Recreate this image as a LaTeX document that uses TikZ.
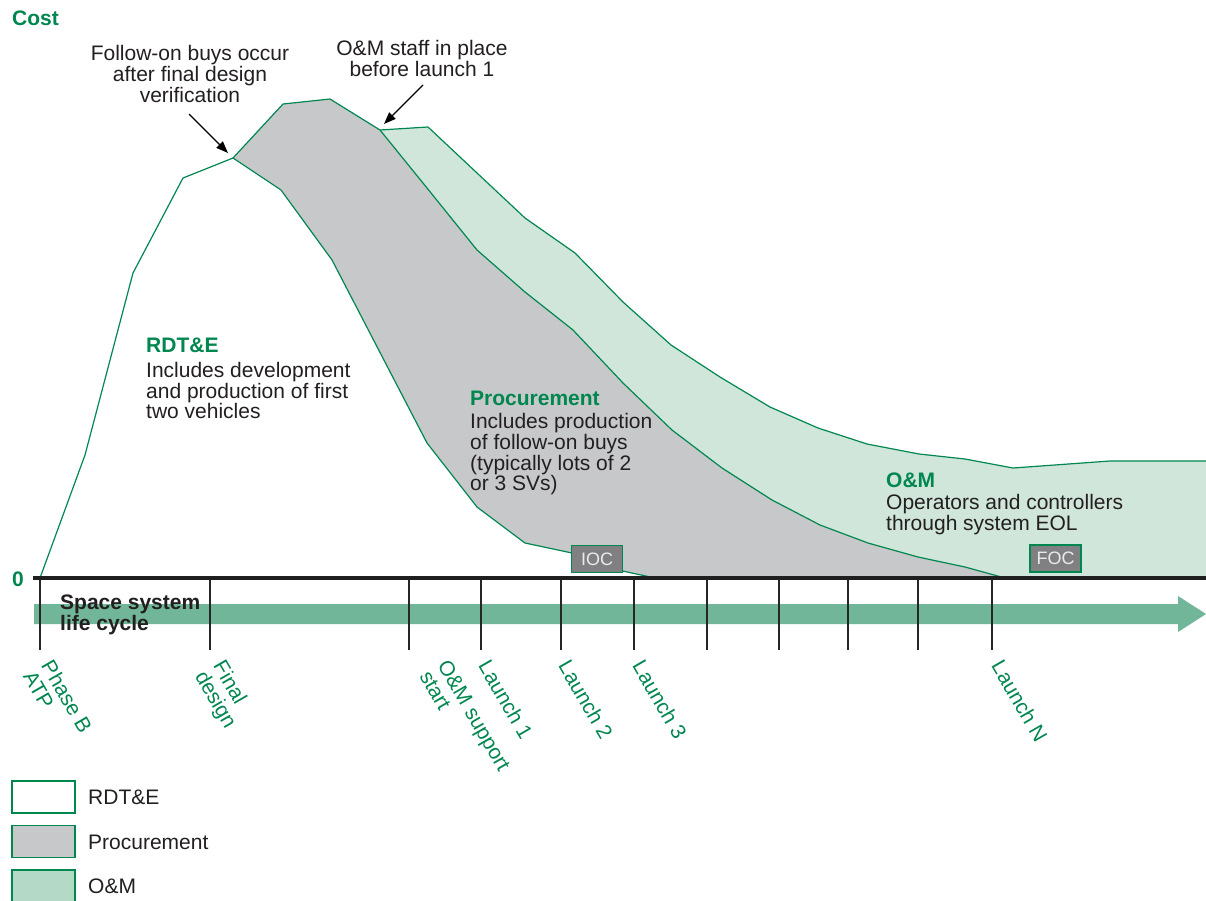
\documentclass[tikz,border=0pt]{standalone}
\usepackage{fontspec}
\setmainfont{Liberation Sans}
\usetikzlibrary{arrows.meta}
\definecolor{ggreen}{RGB}{0,135,80}
\definecolor{pgray}{RGB}{199,200,202}
\definecolor{omfill}{RGB}{208,230,218}
\definecolor{omleg}{RGB}{180,217,199}
\definecolor{bandc}{RGB}{114,182,153}
\definecolor{txt}{RGB}{35,31,32}
\definecolor{boxgray}{RGB}{128,128,131}
\begin{document}
\begin{tikzpicture}[x=1pt,y=-1pt,
  curve/.style={draw=ggreen,line width=1.2pt,line join=round},
  body/.style={font=\fontsize{21}{20.6}\selectfont,text=txt,inner sep=0pt,align=left,anchor=north west},
  ttl/.style={font=\bfseries\fontsize{21}{21}\selectfont,text=ggreen,inner sep=0pt,anchor=base west},
  ticklab/.style={font=\fontsize{21}{21}\selectfont,text=ggreen,inner sep=0pt,align=left,rotate=-60,anchor=north west},
  tickline/.style={line width=1.2pt,draw=black!85},
  milestone/.style={draw=ggreen,line width=1.3pt,fill=boxgray,text=white!92!black,font=\fontsize{18}{18}\selectfont,minimum width=51pt,minimum height=27pt,inner sep=0pt},
  legbox/.style={draw=ggreen,line width=1.1pt,minimum width=63pt,minimum height=32pt,inner sep=0pt},
  legtext/.style={font=\fontsize{21}{21}\selectfont,text=txt,inner sep=0pt,anchor=west},
  note/.style={font=\fontsize{21}{21}\selectfont,text=txt,align=center,inner sep=0pt,anchor=north},
  callout/.style={-{Triangle[length=12pt,width=9pt]},line width=1.3pt,black}
]
\clip (0,0) rectangle (1206,900);
\fill[white] (0,0) rectangle (1206,900);

% O&M area
\fill[omfill] (380,130) -- (428,127) -- (477,173) -- (525,218) -- (575,253) -- (623,302) -- (671,345) -- (720,377) -- (770,407) -- (818,428) -- (867,444) -- (919,454) -- (965,459) -- (1013,468) -- (1110,461) -- (1206,461) -- (1206,578) -- (1005,578) -- (965,567) -- (918,557) -- (868,543) -- (820,525) -- (772,500) -- (722,468) -- (672,430) -- (623,383) -- (573,330) -- (525,292) -- (477,250) -- (427,188) -- cycle;
% Procurement area
\fill[pgray] (233,158) -- (283,104) -- (330,99) -- (380,130) -- (427,188) -- (477,250) -- (525,292) -- (573,330) -- (623,383) -- (672,430) -- (722,468) -- (772,500) -- (820,525) -- (868,543) -- (918,557) -- (965,567) -- (1005,578) -- (655,578) -- (618,570) -- (572,553) -- (525,543) -- (477,507) -- (427,443) -- (332,260) -- (281,190) -- cycle;

% outlines
\draw[curve] (40,578) -- (85,455) -- (133,273) -- (183,178) -- (233,158) -- (281,190) -- (332,260) -- (427,443) -- (477,507) -- (525,543) -- (572,553) -- (618,570) -- (655,578);
\draw[curve] (233,158) -- (283,104) -- (330,99) -- (380,130) -- (427,188) -- (477,250) -- (525,292) -- (573,330) -- (623,383) -- (672,430) -- (722,468) -- (772,500) -- (820,525) -- (868,543) -- (918,557) -- (965,567) -- (1005,578);
\draw[curve] (380,130) -- (428,127) -- (477,173) -- (525,218) -- (575,253) -- (623,302) -- (671,345) -- (720,377) -- (770,407) -- (818,428) -- (867,444) -- (919,454) -- (965,459) -- (1013,468) -- (1110,461) -- (1206,461);

% milestones
\node[milestone] (ioc) at (597,559) {IOC};
\node[milestone] (foc) at (1055.5,558.5) {FOC};

% life-cycle band
\fill[bandc] (34,604) -- (1178,604) -- (1178,596) -- (1206,614) -- (1178,632) -- (1178,624) -- (34,624) -- cycle;
% ticks
\foreach \t in {40,210,409,481,561,634,707,779,848,918,992}
  \draw[tickline] (\t,579) -- (\t,650);
% axis
\draw[line width=4.6pt,black!88] (33,578) -- (1206,578);

\node[font=\bfseries\fontsize{21}{21}\selectfont,text=txt,inner sep=0pt,align=left,anchor=north west] (life) at (60,594.5) {Space system\\life cycle};

% axis labels
\node[ttl] (cost) at (12,25) {Cost};
\node[ttl] (zero) at (12,586) {0};

% tick labels
\node[ticklab] (atp) at (54,658) {Phase B\\ATP};
\node[ticklab] (fd) at (226,658) {Final\\design};
\node[ticklab] (oms) at (450,658) {O\&M support\\start};
\node[ticklab] (l1) at (491,658) {Launch 1};
\node[ticklab] (l2) at (571,658) {Launch 2};
\node[ticklab] (l3) at (645,658) {Launch 3};
\node[ticklab] (ln) at (1004,658) {Launch N};

% region texts
\node[ttl] (rdtitle) at (146,352) {RDT\&E};
\node[body] (rddesc) at (146,362) {Includes development\\and production of first\\two vehicles};
\node[ttl] (prtitle) at (470,405) {Procurement};
\node[body] (prdesc) at (470,413.5) {Includes production\\of follow-on buys\\(typically lots of 2\\or 3 SVs)};
\node[ttl] (omtitle) at (886,487) {O\&M};
\node[body] (omdesc) at (886,494) {Operators and controllers\\through system EOL};

% callouts
\node[note] (n1) at (190,45) {Follow-on buys occur\\after final design\\verification};
\node[note] (n2) at (422,40) {O\&M staff in place\\before launch 1};
\coordinate (c1s) at (189,114);
\coordinate (c1e) at (228,153);
\coordinate (c2s) at (423,85);
\coordinate (c2e) at (384,124);
\draw[callout] (c1s) -- (c1e);
\draw[callout] (c2s) -- (c2e);

% legend
\node[legbox,fill=white] (lg1) at (43.5,797) {};
\node[legbox,fill=pgray] (lg2) at (43.5,841.5) {};
\node[legbox,fill=omleg] (lg3) at (43.5,886) {};
\node[legtext] (lt1) at (88,797) {RDT\&E};
\node[legtext] (lt2) at (88,842) {Procurement};
\node[legtext] (lt3) at (88,886) {O\&M};
\end{tikzpicture}
\end{document}
